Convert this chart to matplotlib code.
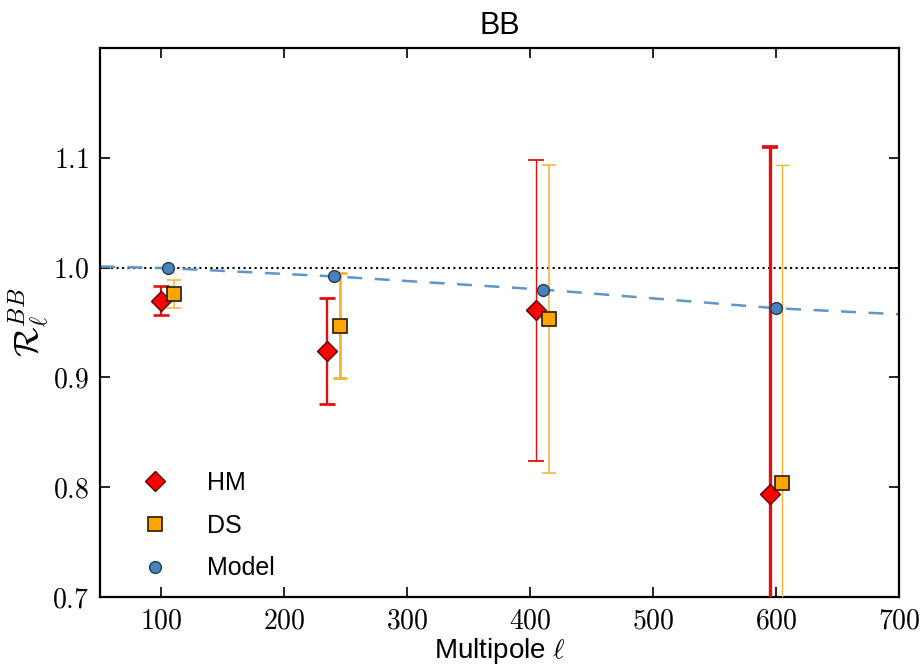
import numpy as np
import matplotlib
matplotlib.use('Agg')
import matplotlib.pyplot as plt
from matplotlib.ticker import FuncFormatter

plt.rcParams['font.family'] = ['Liberation Sans', 'DejaVu Sans']
plt.rcParams['mathtext.fontset'] = 'cm'

# band centres and the BB transfer ratios
ell = np.array([105, 240, 410, 600])
hm_off = -5
ds_off = 5

hm_val = [0.970, 0.924, 0.961, 0.794]
hm_err = [0.013, 0.048, 0.137, 0.316]
ds_val = [0.976, 0.947, 0.953, 0.804]
ds_err = [0.013, 0.048, 0.140, 0.289]
model_val = [0.9995, 0.992, 0.980, 0.963]

# smooth model curve
model_line_ell = [50, 105, 240, 410, 600, 700]
model_line_val = [1.001, 0.9995, 0.992, 0.980, 0.963, 0.9575]

hm_lw = [1.6, 1.7, 1.0, 2.4]
ds_lw = [1.1, 2.0, 1.1, 1.0]

fig = plt.figure(figsize=(9.22, 6.65), dpi=100)
ax = fig.add_axes([100 / 922, 68 / 665, 799 / 922, 549 / 665])

ax.axhline(1.0, color='k', ls=':', lw=1.5, zorder=1)
ax.plot(model_line_ell, model_line_val, ls='--', dashes=(6, 5), color='#5f96c6', lw=1.8, zorder=2)

for x, v, e, w in zip(ell + hm_off, hm_val, hm_err, hm_lw):
    ax.errorbar(x, v, yerr=e, fmt='none', ecolor='#e01010', elinewidth=w,
                capsize=6, capthick=w + 0.3, zorder=3)
hm, = ax.plot(ell + hm_off, hm_val, 'D', color='#ff0000', mec='#5a0000',
              mew=1.0, ms=10, ls='none', label='HM', zorder=4)

for x, v, e, w in zip(ell + ds_off, ds_val, ds_err, ds_lw):
    ax.errorbar(x, v, yerr=e, fmt='none', ecolor='#f5b335', elinewidth=w,
                capsize=5, capthick=w, zorder=3)
ds, = ax.plot(ell + ds_off, ds_val, 's', color='#ffa500', mec='#2a1a00',
              mew=1.2, ms=10, ls='none', label='DS', zorder=5)

mod, = ax.plot(ell, model_val, 'o', color='#4a82bb', mec='#1f3b57',
               mew=1.0, ms=8.5, ls='none', label='Model', zorder=6)

ax.set_xlim(50, 700)
ax.set_ylim(0.7, 1.2)
ax.set_xticks([100, 200, 300, 400, 500, 600, 700])
ax.set_yticks([0.7, 0.8, 0.9, 1.0, 1.1])
ax.xaxis.set_major_formatter(FuncFormatter(lambda v, p: r'$%d$' % v))
ax.yaxis.set_major_formatter(FuncFormatter(lambda v, p: r'$%.1f$' % v))
ax.tick_params(direction='in', top=True, right=True, length=7, width=1.2,
               labelsize=20, pad=8)
for s in ax.spines.values():
    s.set_linewidth(1.6)

ax.set_xlabel(r'Multipole $\ell$', fontsize=20, labelpad=1)
ax.set_ylabel(r'$\mathcal{R}_\ell^{BB}$', fontsize=25, labelpad=0)
ax.set_title('BB', fontsize=22, pad=10)

ax.legend(handles=[hm, ds, mod], loc='lower left', bbox_to_anchor=(0.025, 0.012),
          borderaxespad=0, frameon=False, numpoints=1, fontsize=18,
          handletextpad=1.1, labelspacing=0.75)

fig.savefig('out.png', dpi=100)
